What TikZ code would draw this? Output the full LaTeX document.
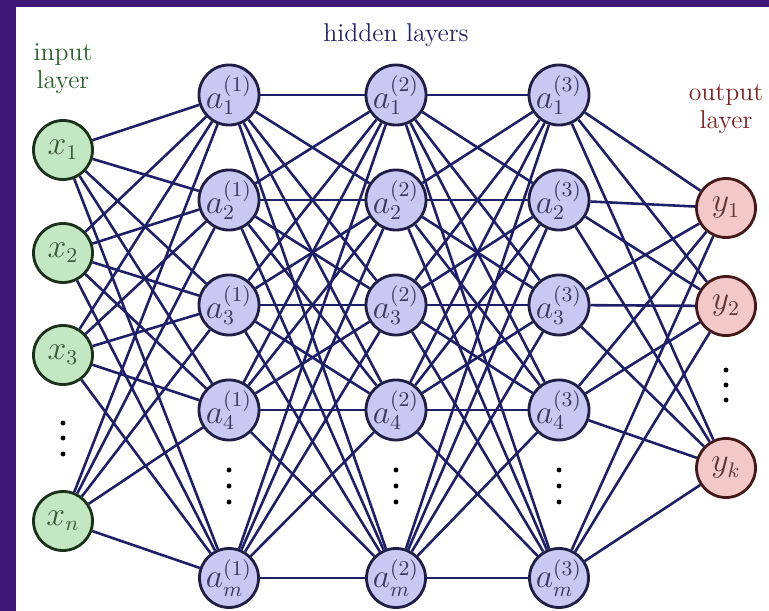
\documentclass[tikz,border=0pt]{standalone}
\definecolor{bgpurple}{RGB}{62,24,118}
\definecolor{edgeblue}{RGB}{30,30,105}
\definecolor{infill}{RGB}{195,230,195}
\definecolor{indraw}{RGB}{25,50,25}
\definecolor{hidfill}{RGB}{200,200,242}
\definecolor{hiddraw}{RGB}{30,30,70}
\definecolor{outfill}{RGB}{242,200,200}
\definecolor{outdraw}{RGB}{70,25,25}
\definecolor{labgreen}{RGB}{40,100,40}
\definecolor{labblue}{RGB}{35,35,110}
\definecolor{labred}{RGB}{130,30,30}
\begin{document}
\begin{tikzpicture}[x=0.015cm,y=-0.015cm,
  font=\fontsize{11}{12}\selectfont,
  neuron/.style={circle,minimum size=0.885cm,inner sep=0pt,line width=1.2pt,
    font=\fontsize{13.5}{15}\selectfont},
  inneuron/.style={neuron,fill=infill,draw=indraw,text=indraw!80!infill},
  hidneuron/.style={neuron,fill=hidfill,draw=hiddraw,text=hiddraw!85!hidfill},
  outneuron/.style={neuron,fill=outfill,draw=outdraw,text=outdraw!85!outfill},
  dotmark/.style={circle,fill=black,inner sep=0pt,minimum size=2.1pt},
  conn/.style={draw=edgeblue,line width=1.1pt},
  layerlabel/.style={align=center,text depth=0pt}]
  % frame and canvas
  \fill[bgpurple] (0,0) rectangle (769,611);
  \fill[white] (16,7) rectangle (769,611);
  \useasboundingbox (0,0) rectangle (769,611);

  % input layer
  \node[inneuron] (x1) at (63,150) {$x_1$};
  \node[inneuron] (x2) at (63,253) {$x_2$};
  \node[inneuron] (x3) at (63,355) {$x_3$};
  \node[inneuron] (xn) at (63,521) {$x_n$};
  \foreach \k/\y in {1/423,2/438,3/454}
    \node[dotmark] (xd\k) at (63,\y) {};

  % hidden layers
  \foreach \l/\xx in {1/229,2/396,3/559}{
    \foreach \i/\y in {1/95,2/200,3/305,4/410}
      \node[hidneuron] (h\l-\i) at (\xx,\y) {$a_{\i}^{(\l)}$};
    \node[hidneuron] (h\l-m) at (\xx,578) {$a_{m}^{(\l)}$};
    \foreach \k/\y in {1/470,2/486,3/502}
      \node[dotmark] (hd\l-\k) at (\xx,\y) {};
  }

  % output layer
  \node[outneuron] (y1) at (726,208) {$y_1$};
  \node[outneuron] (y2) at (726,306) {$y_2$};
  \node[outneuron] (yk) at (726,468) {$y_k$};
  \foreach \k/\y in {1/370,2/385,3/400}
    \node[dotmark] (yd\k) at (726,\y) {};

  % connections
  \foreach \s in {x1,x2,x3,xn}
    \foreach \t in {1,2,3,4,m}
      \draw[conn] (\s) -- (h1-\t);
  \foreach \l/\n in {1/2,2/3}
    \foreach \s in {1,2,3,4,m}
      \foreach \t in {1,2,3,4,m}
        \draw[conn] (h\l-\s) -- (h\n-\t);
  \foreach \s in {1,2,3,4,m}
    \foreach \t in {y1,y2,yk}
      \draw[conn] (h3-\s) -- (\t);

  % layer labels
  \node[layerlabel,text=labgreen] (inlab) at (63,66) {input\\layer};
  \node[layerlabel,text=labblue] (hidlab) at (396,33) {hidden layers};
  \node[layerlabel,text=labred] (outlab) at (726,107) {output\\layer};
\end{tikzpicture}
\end{document}
